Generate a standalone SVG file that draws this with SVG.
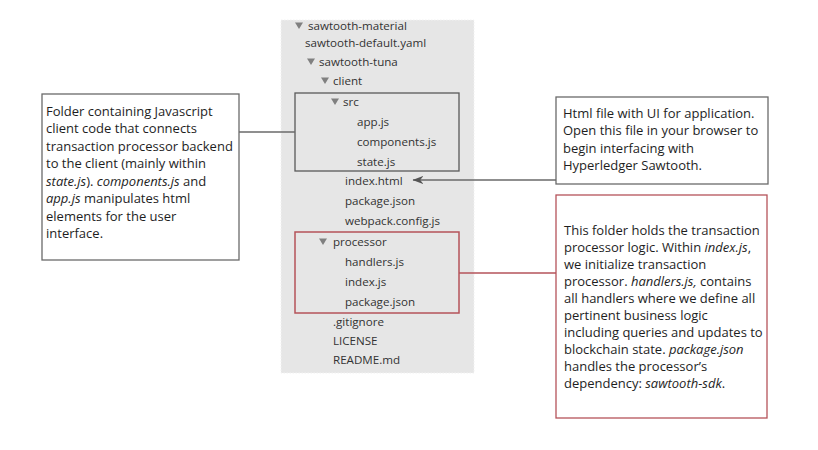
<svg xmlns="http://www.w3.org/2000/svg" width="818" height="450" viewBox="0 0 818 450">
<style>
.tree{font-family:"Open Sans","DejaVu Sans",sans-serif;font-size:11.6px;fill:#333;}
.note{font-family:"Open Sans","Liberation Sans",sans-serif;font-size:13px;fill:#1e1e1e;}
.it{font-style:italic;}
.tri{fill:#808080;}
.box{fill:#fff;stroke:#6a6a6a;stroke-width:1.3;}
.rbox{fill:#fff;stroke:#b5535a;stroke-width:1.3;}
.frame{fill:none;stroke:#5a5a5a;stroke-width:1.3;}
.rframe{fill:none;stroke:#b5535a;stroke-width:1.5;}
.conn{stroke:#6a6a6a;stroke-width:1.5;fill:none;}
.rconn{stroke:#b5535a;stroke-width:1.5;fill:none;}
</style>
<defs>
<marker id="arr" viewBox="0 0 12 10" refX="11.5" refY="5" markerWidth="11" markerHeight="9" orient="auto" markerUnits="userSpaceOnUse">
<path d="M12,5 L0,0.5 L3.5,5 L0,9.5 Z" fill="#555"/>
</marker>
</defs>
<rect width="818" height="450" fill="#fff"/>

<g id="tree">
<rect x="281" y="20" width="193" height="353" fill="#e6e6e6" stroke="#f2f2f2" stroke-dasharray="1.5 1.5"/>
<polygon class="tri" points="295,22.5 303,22.5 299,29"/>
<text class="tree" x="308" y="30">sawtooth-material</text>
<text class="tree" x="305" y="47">sawtooth-default.yaml</text>
<polygon class="tri" points="307,58.5 315,58.5 311,65"/>
<text class="tree" x="319" y="66">sawtooth-tuna</text>
<polygon class="tri" points="321,77.5 329,77.5 325,84"/>
<text class="tree" x="333" y="85">client</text>
<polygon class="tri" points="331,98.5 339,98.5 335,105"/>
<text class="tree" x="343" y="106">src</text>
<text class="tree" x="357" y="126">app.js</text>
<text class="tree" x="357" y="146">components.js</text>
<text class="tree" x="357" y="166">state.js</text>
<text class="tree" x="345" y="185">index.html</text>
<text class="tree" x="345" y="205">package.json</text>
<text class="tree" x="345" y="225">webpack.config.js</text>
<polygon class="tri" points="319,238.5 327,238.5 323,245"/>
<text class="tree" x="333" y="246">processor</text>
<text class="tree" x="345" y="266">handlers.js</text>
<text class="tree" x="345" y="286">index.js</text>
<text class="tree" x="345" y="306">package.json</text>
<text class="tree" x="333" y="326">.gitignore</text>
<text class="tree" x="333" y="345">LICENSE</text>
<text class="tree" x="333" y="364">README.md</text>
</g>

<g id="src-frame"><rect class="frame" x="295" y="93" width="164" height="78"/></g>
<g id="processor-frame"><rect class="rframe" x="295" y="232" width="164" height="81"/></g>

<g id="connectors">
<line class="conn" x1="239" y1="132" x2="295" y2="132"/>
<line class="conn" x1="556" y1="180" x2="413" y2="180" marker-end="url(#arr)"/>
<line class="rconn" x1="459" y1="273" x2="556" y2="273"/>
</g>

<g id="client-note">
<rect class="box" x="42" y="94" width="197" height="166"/>
<text class="note" x="46" y="115.5">Folder containing Javascript</text>
<text class="note" x="46" y="133">client code that connects</text>
<text class="note" x="46" y="150.5">transaction processor backend</text>
<text class="note" x="46" y="168">to the client (mainly within</text>
<text class="note" x="46" y="185.5"><tspan class="it">state.js</tspan>). <tspan class="it">components.js</tspan> and</text>
<text class="note" x="46" y="203"><tspan class="it">app.js</tspan> manipulates html</text>
<text class="note" x="46" y="220.5">elements for the user</text>
<text class="note" x="46" y="238">interface.</text>
</g>

<g id="html-note">
<rect class="box" x="556" y="97" width="212" height="87"/>
<text class="note" x="563" y="117.5">Html file with UI for application.</text>
<text class="note" x="563" y="135">Open this file in your browser to</text>
<text class="note" x="563" y="152.5">begin interfacing with</text>
<text class="note" x="563" y="170">Hyperledger Sawtooth.</text>
</g>

<g id="processor-note">
<rect class="rbox" x="556" y="195" width="211" height="223"/>
<text class="note" x="564" y="234.5">This folder holds the transaction</text>
<text class="note" x="564" y="251.5">processor logic. Within <tspan class="it">index.js</tspan>,</text>
<text class="note" x="564" y="268.5">we initialize transaction</text>
<text class="note" x="564" y="285.5">processor. <tspan class="it">handlers.js,</tspan> contains</text>
<text class="note" x="564" y="302.5">all handlers where we define all</text>
<text class="note" x="564" y="319.5">pertinent business logic</text>
<text class="note" x="564" y="336.5">including queries and updates to</text>
<text class="note" x="564" y="353.5">blockchain state. <tspan class="it">package.json</tspan></text>
<text class="note" x="564" y="370.5">handles the processor’s</text>
<text class="note" x="564" y="387.5">dependency: <tspan class="it">sawtooth-sdk</tspan>.</text>
</g>
</svg>
